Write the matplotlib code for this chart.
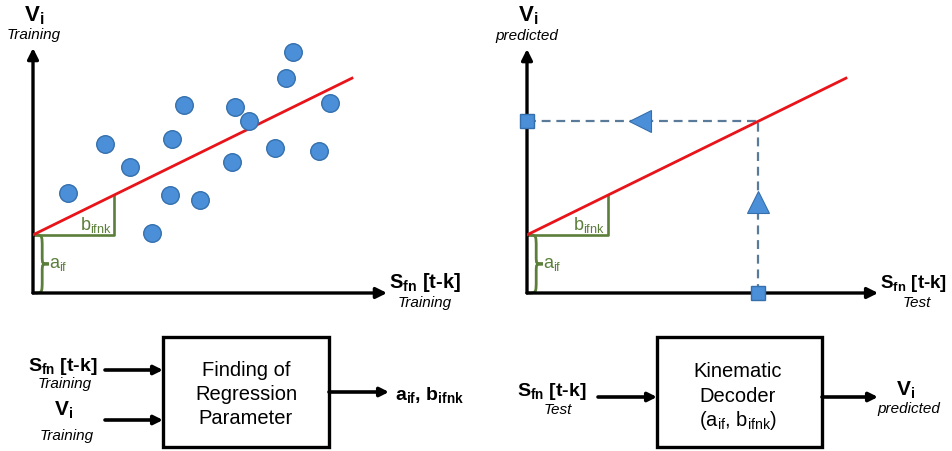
import numpy as np
import matplotlib
matplotlib.use('Agg')
import matplotlib.pyplot as plt
from matplotlib.path import Path
from matplotlib.patches import PathPatch, Rectangle

plt.rcParams['font.family'] = ['Liberation Sans', 'DejaVu Sans']
plt.rcParams['mathtext.fontset'] = 'custom'
plt.rcParams['mathtext.rm'] = 'Liberation Sans'
plt.rcParams['mathtext.it'] = 'Liberation Sans:italic'
plt.rcParams['mathtext.bf'] = 'Liberation Sans:bold'

# training samples (feature S_fn[t-k], target V_i)
train_s = [7.34, 7.15, 4.27, 5.71, 6.10, 8.39, 3.93, 2.03, 2.74, 6.84, 8.08, 5.62, 0.99, 3.87, 4.72, 3.36]
train_v = [6.89, 6.14, 5.37, 5.31, 4.91, 5.43, 4.40, 4.26, 3.60, 4.14, 4.06, 3.74, 2.86, 2.80, 2.66, 1.71]

# regression parameters
a_if = 1.66
b_ifnk = 0.497
line_end = 9.01
slope_step = 2.29

# one test sample
test_s = 6.53

RED = '#e8141a'
GREEN = '#5b7f3b'
BLUE = '#4a8fd8'
BLUE_EDGE = '#3570ad'
DASH = '#5a7a9a'

W, H = 953, 452
fig = plt.figure(figsize=(W / 100, H / 100), dpi=100)


def brace(ax, top, x0=0.03, xm=0.26, xt=0.45):
    ym = top / 2
    r = 0.38
    verts = [(x0, top), (xm, top), (xm, top), (xm, top - r),
             (xm, ym + r * 0.6),
             (xm, ym), (xm, ym), (xt, ym),
             (xm, ym), (xm, ym), (xm, ym - r * 0.6),
             (xm, r),
             (xm, 0), (xm, 0), (x0, 0)]
    codes = [Path.MOVETO, Path.CURVE4, Path.CURVE4, Path.CURVE4,
             Path.LINETO,
             Path.CURVE4, Path.CURVE4, Path.CURVE4,
             Path.CURVE4, Path.CURVE4, Path.CURVE4,
             Path.LINETO,
             Path.CURVE4, Path.CURVE4, Path.CURVE4]
    ax.add_patch(PathPatch(Path(verts, codes), fill=False, ec=GREEN, lw=2.0, clip_on=False))


def panel(left_px, x_len, y_len):
    ax = fig.add_axes([left_px / W, (H - 294) / H, 354 / W, 245 / H])
    ax.set_xlim(0, 10)
    ax.set_ylim(0, 7)
    ax.axis('off')
    arrow = dict(arrowstyle='-|>', lw=2.4, color='black', mutation_scale=16, shrinkA=0, shrinkB=0)
    ax.annotate('', xy=(x_len, 0), xytext=(0, 0), arrowprops=arrow, annotation_clip=False)
    ax.annotate('', xy=(0, y_len), xytext=(0, 0), arrowprops=arrow, annotation_clip=False)
    # fitted line and slope triangle
    ax.plot([0, line_end], [a_if, a_if + b_ifnk * line_end], color=RED, lw=2.0, zorder=3)
    ax.plot([0, slope_step, slope_step], [a_if, a_if, a_if + b_ifnk * slope_step],
            color=GREEN, lw=1.9, zorder=2)
    brace(ax, a_if)
    return ax


ax1 = panel(33, 10.0, 7.0)
ax1.scatter(train_s, train_v, s=160, color=BLUE, edgecolor=BLUE_EDGE, lw=1.0, zorder=4, clip_on=False)

ax2 = panel(527, 9.92, 6.97)
v_pred = a_if + b_ifnk * test_s
ax2.plot([0, test_s], [v_pred, v_pred], color=DASH, lw=1.6, ls=(0, (4, 2.6)), zorder=1)
ax2.plot([test_s, test_s], [0, v_pred], color=DASH, lw=1.6, ls=(0, (4, 2.6)), zorder=1)
ax2.plot([0.49 * test_s], [v_pred], marker='<', ms=16, color=BLUE, mec=BLUE_EDGE, mew=0.8, zorder=5)
ax2.plot([test_s], [0.53 * v_pred], marker='^', ms=16, color=BLUE, mec=BLUE_EDGE, mew=0.8, zorder=5)
ax2.plot([0, test_s], [v_pred, 0], ls='none', marker='s', ms=10, color=BLUE, mec=BLUE_EDGE,
         mew=1.0, zorder=6, clip_on=False)

# overlay in pixel units for labels and the block diagram
ov = fig.add_axes([0, 0, 1, 1])
ov.set_xlim(0, W)
ov.set_ylim(H, 0)
ov.axis('off')
ov.patch.set_alpha(0)

def label(x, y, s, size=11, ha='center', **kw):
    ov.text(x, y, s, fontsize=size, ha=ha, va='baseline', **kw)

# top-left panel labels
label(34, 21, r'$\mathbf{V_i}$', size=16)
label(34, 39, 'Training', style='italic')
label(389, 288, r'$\mathbf{S_{fn}}$ [t-k]', size=14.5, ha='left', weight='bold')
label(425, 307, 'Training', style='italic')
label(80, 230, r'$\mathrm{b_{ifnk}}$', size=13, ha='left', color=GREEN)
label(49, 268, r'$\mathrm{a_{if}}$', size=13, ha='left', color=GREEN)

# top-right panel labels
label(528, 21, r'$\mathbf{V_i}$', size=16)
label(527, 40, 'predicted', style='italic')
label(880, 288, r'$\mathbf{S_{fn}}$ [t-k]', size=13.5, ha='left', weight='bold')
label(917, 307, 'Test', style='italic')
label(573, 230, r'$\mathrm{b_{ifnk}}$', size=13, ha='left', color=GREEN)
label(543, 268, r'$\mathrm{a_{if}}$', size=13, ha='left', color=GREEN)

# block diagram
flow = dict(arrowstyle='-|>', lw=2.6, color='black', mutation_scale=13, shrinkA=0, shrinkB=0)

def arrow(x0, x1, y):
    ov.annotate('', xy=(x1, y), xytext=(x0, y), arrowprops=flow)

ov.add_patch(Rectangle((163, 338), 166, 110, fill=False, ec='black', lw=2.4))
ov.add_patch(Rectangle((657, 338), 165, 110, fill=False, ec='black', lw=2.4))

label(28, 371, r'$\mathbf{S_{fn}}$ [t-k]', size=14, ha='left', weight='bold')
label(65, 388, 'Training', style='italic')
arrow(105, 163, 371)
label(64, 416, r'$\mathbf{V_i}$', size=15)
label(67, 440, 'Training', style='italic')
arrow(105, 163, 421)
for yb, s in zip([376, 400, 424], ['Finding of', 'Regression', 'Parameter']):
    label(246, yb, s, size=14.5)
arrow(329, 389, 393)
label(395, 400, r'$\mathbf{a_{if}}$, $\mathbf{b_{ifnk}}$', size=14, ha='left', weight='bold')

label(517, 396, r'$\mathbf{S_{fn}}$ [t-k]', size=14, ha='left', weight='bold')
label(558, 414, 'Test', style='italic')
arrow(598, 657, 398)
for yb, s in zip([377, 402, 426], ['Kinematic', 'Decoder', r'($\mathrm{a_{if}}$, $\mathrm{b_{ifnk}}$)']):
    label(738, yb, s, size=14.5)
arrow(822, 878, 398)
label(906, 396, r'$\mathbf{V_i}$', size=15)
label(909, 413, 'predicted', style='italic')

fig.savefig('out.png', dpi=100, facecolor='white')
